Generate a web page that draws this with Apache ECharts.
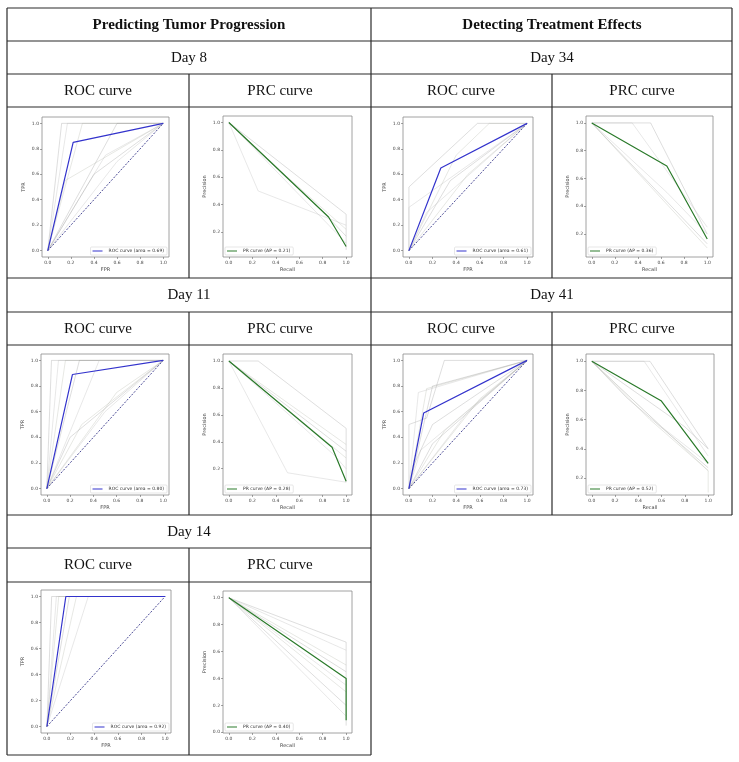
<!DOCTYPE html>
<html>
<head>
<meta charset="utf-8">
<script src="https://cdn.jsdelivr.net/npm/echarts@6/dist/echarts.min.js"></script>
<style>
  html, body { margin: 0; padding: 0; background: #fff; }
  #main { width: 739px; height: 762px; }
</style>
</head>
<body>
<div id="main"></div>
<script>
// ---- data ----
var rateTicks = [0.0, 0.2, 0.4, 0.6, 0.8, 1.0];
var precTicks = [0.2, 0.4, 0.6, 0.8, 1.0];
var chance = [[0, 0], [1, 1]];

// Day 8
var roc8Main = [[0, 0], [0.22, 0.85], [1, 1]];
var roc8Runs = [
  [[0, 0], [0.12, 1], [1, 1]],
  [[0, 0], [0.17, 1], [1, 1]],
  [[0, 0], [0.30, 1], [1, 1]],
  [[0, 0], [0.60, 1], [1, 1]],
  [[0, 0], [0.50, 0.75], [1, 1]],
  [[0, 0], [0.15, 0.55], [1, 1]],
  [[0, 0], [0.40, 0.60], [1, 1]],
  [[0, 0], [0.60, 0.70], [1, 1]]
];
var prc8Main = [[0, 1], [0.85, 0.31], [1, 0.095]];
var prc8Runs = [
  [[0, 1], [1, 0.33], [1, 0.07]],
  [[0, 1], [0.25, 0.50], [1, 0.25]],
  [[0, 1], [0.50, 0.60], [1, 0.22]],
  [[0, 1], [0.80, 0.35], [1, 0.17]],
  [[0, 1], [1, 0.12]]
];

// Day 34
var roc34Main = [[0, 0], [0.27, 0.65], [1, 1]];
var roc34Runs = [
  [[0, 0], [0, 0.5], [0.58, 1], [1, 1]],
  [[0, 0], [0, 0.34], [1, 1]],
  [[0, 0], [0.40, 0.75], [0.68, 1], [1, 1]],
  [[0, 0], [0.35, 0.55], [1, 1]],
  [[0, 0], [0.15, 0.30], [1, 1]],
  [[0, 0], [0.50, 0.60], [1, 1]]
];
var prc34Main = [[0, 1], [0.65, 0.69], [1, 0.165]];
var prc34Runs = [
  [[0, 1], [0.51, 1], [1, 0.20]],
  [[0, 1], [0.35, 1], [1, 0.25]],
  [[0, 1], [1, 0.10]],
  [[0, 1], [1, 0.13]],
  [[0, 1], [0.65, 0.50], [1, 0.20]]
];

// Day 11
var roc11Main = [[0, 0], [0.22, 0.89], [1, 1]];
var roc11Runs = [
  [[0, 0], [0.04, 1], [1, 1]],
  [[0, 0], [0.10, 1], [1, 1]],
  [[0, 0], [0.16, 1], [1, 1]],
  [[0, 0], [0.28, 1], [1, 1]],
  [[0, 0], [0.45, 1], [1, 1]],
  [[0, 0], [0.30, 0.50], [1, 1]],
  [[0, 0], [0.20, 0.40], [1, 1]],
  [[0, 0], [0.50, 0.60], [1, 1]],
  [[0, 0], [0.60, 0.75], [1, 1]]
];
var prc11Main = [[0, 1], [0.88, 0.36], [1, 0.107]];
var prc11Runs = [
  [[0, 1], [0.25, 1], [1, 0.50], [1, 0.10]],
  [[0, 1], [0.50, 0.17], [1, 0.10]],
  [[0, 1], [1, 0.38]],
  [[0, 1], [1, 0.33]],
  [[0, 1], [0.90, 0.30], [1, 0.20]],
  [[0, 1], [1, 0.28]]
];

// Day 41
var roc41Main = [[0, 0], [0.125, 0.59], [1, 1]];
var roc41Runs = [
  [[0, 0], [0, 0.5], [0.15, 0.55], [0.30, 1], [1, 1]],
  [[0, 0], [0.08, 0.75], [1, 1]],
  [[0, 0], [0.15, 0.78], [1, 1]],
  [[0, 0], [0.20, 0.80], [1, 1]],
  [[0, 0], [0.10, 0.30], [1, 1]],
  [[0, 0], [0.30, 0.45], [1, 1]],
  [[0, 0], [0.20, 0.35], [1, 1]],
  [[0, 0], [0.50, 0.60], [1, 1]],
  [[0, 0], [0.60, 0.70], [1, 1]],
  [[0, 0], [0.05, 0.20], [0.20, 0.50], [1, 1]]
];
var prc41Main = [[0, 1], [0.595, 0.73], [1, 0.30]];
var prc41Runs = [
  [[0, 1], [0.50, 1], [1, 0.40]],
  [[0, 1], [0.45, 1], [1, 0.35]],
  [[0, 1], [1, 0.25]],
  [[0, 1], [0.30, 0.75], [1, 0.27]],
  [[0, 1], [0.60, 0.55], [1, 0.30]],
  [[0, 1], [0.50, 0.60], [1, 0.25], [1, 0.10]],
  [[0, 1], [0.80, 0.55], [1, 0.40]]
];

// Day 14
var roc14Main = [[0, 0], [0.16, 1], [1, 1]];
var roc14Runs = [
  [[0, 0], [0.04, 1], [1, 1]],
  [[0, 0], [0.08, 1], [1, 1]],
  [[0, 0], [0.10, 1], [1, 1]],
  [[0, 0], [0.19, 1], [1, 1]],
  [[0, 0], [0.35, 1], [1, 1]],
  [[0, 0], [0.20, 0.80], [0.25, 1], [1, 1]]
];
var prc14Main = [[0, 1], [1, 0.40], [1, 0.09]];
var prc14Runs = [
  [[0, 1], [1, 0.67], [1, 0.05]],
  [[0, 1], [1, 0.61]],
  [[0, 1], [1, 0.50]],
  [[0, 1], [1, 0.45]],
  [[0, 1], [1, 0.35]],
  [[0, 1], [1, 0.30]],
  [[0, 1], [1, 0.20]],
  [[0, 1], [1, 0.12]]
];
var prc14Ticks = [0.0, 0.2, 0.4, 0.6, 0.8, 1.0];

// ---- layout ----
var W = 739, H = 762;
var panels = [
  { kind: 'roc', main: roc8Main, runs: roc8Runs, name: 'ROC curve (area = 0.69)', box: [42, 117, 127, 140], yr: [-0.05, 1.05], yt: rateTicks },
  { kind: 'prc', main: prc8Main, runs: prc8Runs, name: 'PR curve (AP = 0.21)', box: [223, 116, 129, 141], yr: [0.018, 1.047], yt: precTicks },
  { kind: 'roc', main: roc34Main, runs: roc34Runs, name: 'ROC curve (area = 0.61)', box: [403, 117, 130, 140], yr: [-0.05, 1.05], yt: rateTicks },
  { kind: 'prc', main: prc34Main, runs: prc34Runs, name: 'PR curve (AP = 0.36)', box: [586, 116, 127, 141], yr: [0.035, 1.05], yt: precTicks },
  { kind: 'roc', main: roc11Main, runs: roc11Runs, name: 'ROC curve (area = 0.80)', box: [41, 354, 128, 141], yr: [-0.05, 1.05], yt: rateTicks },
  { kind: 'prc', main: prc11Main, runs: prc11Runs, name: 'PR curve (AP = 0.28)', box: [223, 354, 129, 141], yr: [0.005, 1.052], yt: precTicks },
  { kind: 'roc', main: roc41Main, runs: roc41Runs, name: 'ROC curve (area = 0.73)', box: [403, 354, 130, 141], yr: [-0.05, 1.05], yt: rateTicks },
  { kind: 'prc', main: prc41Main, runs: prc41Runs, name: 'PR curve (AP = 0.52)', box: [586, 354, 128, 141], yr: [0.083, 1.05], yt: precTicks },
  { kind: 'roc', main: roc14Main, runs: roc14Runs, name: 'ROC curve (area = 0.92)', box: [41, 590, 130, 143], yr: [-0.05, 1.05], yt: rateTicks },
  { kind: 'prc', main: prc14Main, runs: prc14Runs, name: 'PR curve (AP = 0.40)', box: [223, 591, 129, 142], yr: [-0.005, 1.05], yt: prc14Ticks }
];

var runColors = ['rgba(150,150,150,0.35)', 'rgba(190,190,190,0.4)', 'rgba(165,170,155,0.3)'];
var tickFmt = function (v) { return v.toFixed(1); };

var grids = [], xAxes = [], yAxes = [], series = [], legends = [];

panels.forEach(function (p, i) {
  var b = p.box;
  var isRoc = p.kind === 'roc';
  var mainColor = isRoc ? '#3333cc' : '#2a7a2a';
  grids.push({
    left: b[0], top: b[1], width: b[2], height: b[3],
    show: true, borderColor: '#8a8a8a', borderWidth: 0.8, backgroundColor: '#fff'
  });
  var axisCommon = function (name, range, ticks, gap) {
    return {
      gridIndex: i, type: 'value', min: range[0], max: range[1],
      name: name, nameLocation: 'middle', nameGap: gap,
      nameTextStyle: { fontSize: 5, color: '#444', fontFamily: 'DejaVu Sans' },
      axisLine: { show: false, onZero: false },
      splitLine: { show: false },
      axisTick: { show: true, length: 2, customValues: ticks, lineStyle: { color: '#666', width: 0.6 } },
      axisLabel: { customValues: ticks, formatter: tickFmt, fontSize: 4.5, color: '#444', margin: 3, fontFamily: 'DejaVu Sans' }
    };
  };
  xAxes.push(axisCommon(isRoc ? 'FPR' : 'Recall', [-0.05, 1.05], rateTicks, 10));
  yAxes.push(axisCommon(isRoc ? 'TPR' : 'Precision', p.yr, p.yt, 16));

  p.runs.forEach(function (run, k) {
    series.push({
      type: 'line', xAxisIndex: i, yAxisIndex: i, data: run,
      symbol: 'none', silent: true, z: 1,
      lineStyle: { color: runColors[k % runColors.length], width: 0.9 }
    });
  });
  if (isRoc) {
    series.push({
      type: 'line', xAxisIndex: i, yAxisIndex: i, data: chance,
      symbol: 'none', silent: true, z: 2,
      lineStyle: { color: '#1c1c7a', width: 0.8, type: [2, 1.5] }
    });
  }
  series.push({
    type: 'line', name: p.name, xAxisIndex: i, yAxisIndex: i, data: p.main,
    symbol: 'none', silent: true, z: 3,
    itemStyle: { color: mainColor },
    lineStyle: { color: mainColor, width: 1.2 }
  });

  var lg = {
    data: [{ name: p.name, icon: 'path://M0,0L10,0L10,1L0,1Z', itemStyle: { color: mainColor } }],
    orient: 'vertical',
    bottom: H - (b[1] + b[3]) + 2,
    backgroundColor: '#fff', borderColor: '#cfcfcf', borderWidth: 0.5, borderRadius: 1,
    padding: [1.5, 3, 1.5, 2], itemWidth: 10, itemHeight: 1.2, itemGap: 0,
    textStyle: { fontSize: 4.5, color: '#333', fontFamily: 'DejaVu Sans', padding: [0, 0, 0, 1] },
    selectedMode: false
  };
  if (isRoc) { lg.right = W - (b[0] + b[2]) + 2; } else { lg.left = b[0] + 2; }
  legends.push(lg);
});

// ---- table frame ----
var rules = [
  [7, 8, 732, 8], [7, 41, 732, 41], [7, 74, 732, 74], [7, 107, 732, 107],
  [7, 278, 732, 278], [7, 312, 732, 312], [7, 345, 732, 345], [7, 515, 732, 515],
  [7, 548, 371, 548], [7, 582, 371, 582], [7, 755, 371, 755],
  [7, 8, 7, 755], [371, 8, 371, 755], [732, 8, 732, 515],
  [189, 74, 189, 278], [189, 312, 189, 515], [189, 548, 189, 755],
  [552, 74, 552, 278], [552, 312, 552, 515]
];
var headings = [
  ['Predicting Tumor Progression', 189, 25, true], ['Detecting Treatment Effects', 552, 25, true],
  ['Day 8', 189, 58], ['Day 34', 552, 58],
  ['ROC curve', 98, 91], ['PRC curve', 280, 91], ['ROC curve', 461, 91], ['PRC curve', 642, 91],
  ['Day 11', 189, 295], ['Day 41', 552, 295],
  ['ROC curve', 98, 329], ['PRC curve', 280, 329], ['ROC curve', 461, 329], ['PRC curve', 642, 329],
  ['Day 14', 189, 532],
  ['ROC curve', 98, 565], ['PRC curve', 280, 565]
];

var graphics = [];
rules.forEach(function (r) {
  graphics.push({
    type: 'line', silent: true, z: 10,
    shape: { x1: r[0], y1: r[1], x2: r[2], y2: r[3] },
    style: { stroke: '#2b2b2b', lineWidth: 1.2 }
  });
});
headings.forEach(function (t) {
  graphics.push({
    type: 'text', silent: true, z: 10, x: t[1], y: t[2],
    style: {
      text: t[0], fill: '#111', align: 'center', verticalAlign: 'middle',
      font: (t[3] ? 'bold ' : '') + '15px "Liberation Serif", serif'
    }
  });
});

var chartDom = document.getElementById('main');
var myChart = echarts.init(chartDom, null, { renderer: 'canvas' });
myChart.setOption({
  animation: false,
  backgroundColor: '#fff',
  grid: grids,
  xAxis: xAxes,
  yAxis: yAxes,
  legend: legends,
  series: series,
  graphic: graphics
});
</script>
</body>
</html>
